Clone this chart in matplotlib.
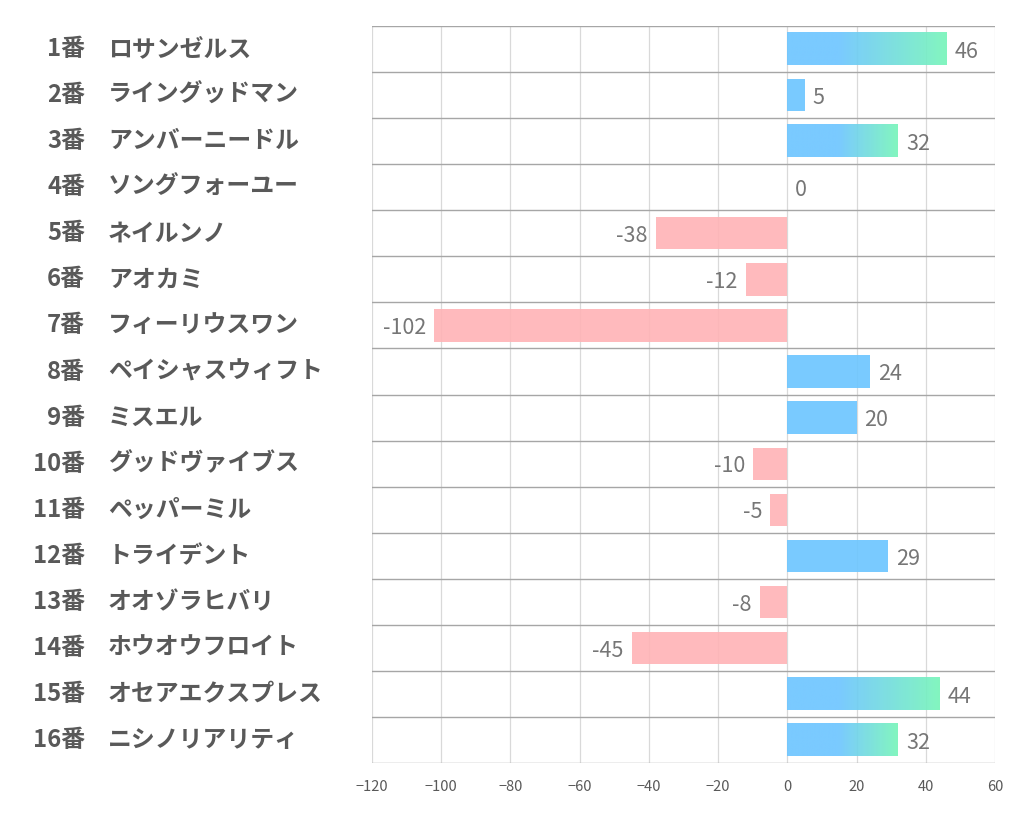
import numpy as np
import matplotlib
matplotlib.use("Agg")
import matplotlib.pyplot as plt
from matplotlib.colors import LinearSegmentedColormap

plt.rcParams['font.family'] = ['Noto Sans CJK JP', 'DejaVu Sans']

numbers = ["1番", "2番", "3番", "4番", "5番", "6番", "7番", "8番",
           "9番", "10番", "11番", "12番", "13番", "14番", "15番", "16番"]
names = ["ロサンゼルス", "ライングッドマン", "アンバーニードル", "ソングフォーユー",
         "ネイルンノ", "アオカミ", "フィーリウスワン", "ペイシャスウィフト",
         "ミスエル", "グッドヴァイブス", "ペッパーミル", "トライデント",
         "オオゾラヒバリ", "ホウオウフロイト", "オセアエクスプレス", "ニシノリアリティ"]
values = [46, 5, 32, 0, -38, -12, -102, 24, 20, -10, -5, 29, -8, -45, 44, 32]

blue = "#6EC6FF"
green = "#78F5BA"
pink = "#FFB3B6"
grad_start = 15  # gradient begins around here on the long bars

fig = plt.figure(figsize=(10.22, 8.34), dpi=100)
ax = fig.add_axes([0.364, 0.085, 0.6096, 0.8838])

n = len(values)
ys = np.arange(n)
h = 0.7
cmap = LinearSegmentedColormap.from_list("bg", [blue, green])

for y, v in zip(ys, values):
    if v < 0:
        ax.barh(y, v, height=h, color=pink, alpha=0.9, zorder=2)
    elif v >= 30:
        xs = np.linspace(0, v, 300)
        t = np.clip((xs - grad_start) / (v - grad_start), 0, 1)
        ax.imshow(t[np.newaxis, :], cmap=cmap, aspect='auto', alpha=0.92,
                  extent=[0, v, y + h / 2, y - h / 2], zorder=2, vmin=0, vmax=1)
    elif v > 0:
        ax.barh(y, v, height=h, color=blue, alpha=0.92, zorder=2)
    # value label
    if v < 0:
        ax.text(v - 2.3, y + 0.06, str(v), ha='right', va='center',
                fontsize=15.5, color='#767676')
    else:
        ax.text(v + 2.3, y + 0.06, str(v), ha='left', va='center',
                fontsize=15.5, color='#767676')

ax.set_xlim(-120, 60)
ax.set_ylim(n - 0.5, -0.5)
ax.set_xticks(np.arange(-120, 61, 20))
ax.tick_params(axis='x', length=0, labelsize=10.5, labelcolor='#595959', pad=12)
ax.set_yticks([])

# vertical grid
for xv in np.arange(-120, 61, 20):
    ax.axvline(xv, color='#D9D9D9', lw=0.9, zorder=1)
# horizontal row separators
for yb in np.arange(-0.5, n + 0.5, 1):
    ax.axhline(yb, color='#A6A6A6', lw=1.0, zorder=1)

for s in ax.spines.values():
    s.set_visible(False)

# category labels
for y, num, name in zip(ys, numbers, names):
    ax.annotate(num, xy=(0, y), xycoords=('axes fraction', 'data'),
                xytext=(-287, 0), textcoords='offset pixels',
                ha='right', va='center', fontsize=17.2, fontweight='bold',
                color='#595959', annotation_clip=False)
    ax.annotate(name, xy=(0, y), xycoords=('axes fraction', 'data'),
                xytext=(-264, 0), textcoords='offset pixels',
                ha='left', va='center', fontsize=17.2, fontweight='bold',
                color='#595959', annotation_clip=False)

fig.savefig("out.png", dpi=100)
